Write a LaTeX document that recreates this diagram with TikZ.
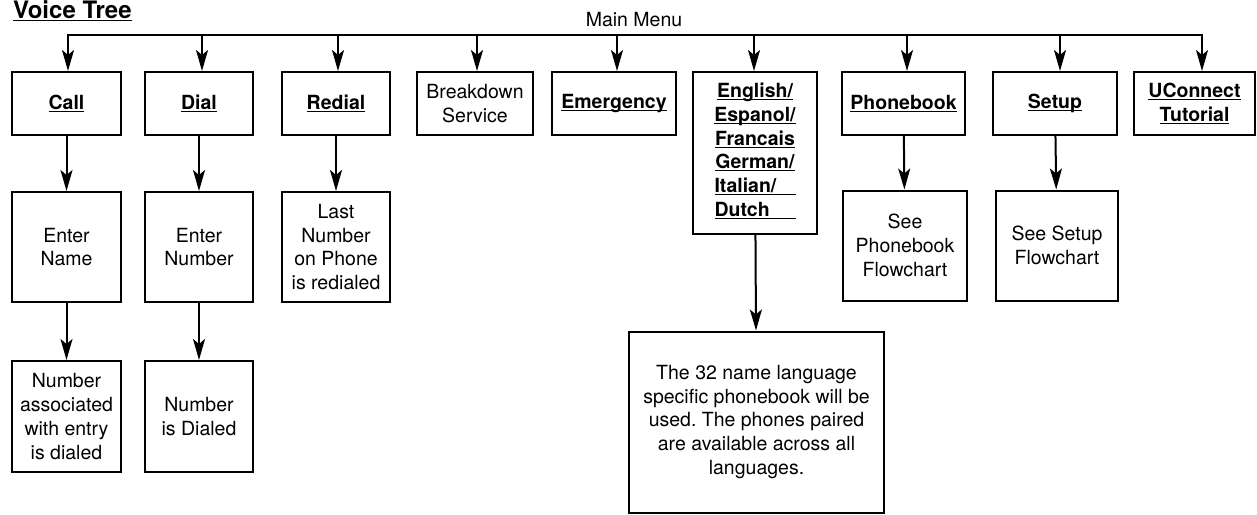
\documentclass[tikz,border=0pt]{standalone}
\usepackage{fontspec}
\setmainfont{TeX Gyre Heros}
\usepackage{tikz}
\usetikzlibrary{arrows.meta,positioning}
\tikzset{every picture/.style={line width=2pt}}
\frenchspacing
\newsavebox{\ulbox}
\newcommand{\ul}[1]{\sbox{\ulbox}{#1}\rlap{\rule[-2.5pt]{\wd\ulbox}{1pt}}\usebox{\ulbox}}
\newcommand{\wideul}[1]{\ul{\makebox[81pt][l]{#1}}}

\begin{document}
\begin{tikzpicture}[x=1pt, y=-1pt,
    box/.style={draw, inner sep=0pt, align=center, font={\fontsize{19.5}{23.7}\selectfont}},
    toprow/.style={box, minimum height=63pt},
    midrow/.style={box, minimum height=110pt},
    lowrow/.style={box, minimum height=111pt},
    arr/.style={-{Stealth[length=21pt,width=12pt,inset=5pt]}}]
    \useasboundingbox (0,0) rectangle (1257,514);

    % 标题
    \node[anchor=base west, inner sep=0pt, font={\fontsize{24}{24}\selectfont\bfseries}] (title) at (12,18) {\ul{Voice Tree}};
    \node[anchor=base, inner sep=0pt, font={\fontsize{19.5}{23.7}\selectfont}] (menu) at (634,26) {Main Menu};

    % 第一行：菜单项
    \node[toprow, minimum width=109pt] (call) at (66.5,103.5) {\bfseries\ul{Call}};
    \node[toprow, minimum width=108pt] (dial) at (199,103.5) {\bfseries\ul{Dial}};
    \node[toprow, minimum width=108pt] (redial) at (336,103.5) {\bfseries\ul{Redial}};
    \node[toprow, minimum width=116pt] (breakdown) at (475,103.5) {Breakdown\\Service};
    \node[toprow, minimum width=124pt] (emergency) at (614,103.5) {\bfseries\ul{Emergency}};
    \node[box, minimum width=124pt, minimum height=162pt, font={\fontsize{19.5}{23.7}\selectfont\bfseries}] (lang) at (755,153)
        {\ul{English/}\\\ul{Espanol/}\\\ul{Francais}\\\ul{German/}\\\wideul{Italian/}\\\wideul{Dutch}\\[-17pt]};
    \node[toprow, minimum width=123pt] (phonebook) at (903.5,103.5) {\bfseries\ul{Phonebook}};
    \node[toprow, minimum width=124pt] (setup) at (1055,103.5) {\bfseries\ul{Setup}};
    \node[toprow, minimum width=121pt, font={\fontsize{19.5}{23.7}\selectfont\bfseries}] (uconnect) at (1194.5,103.5) {\ul{UConnect}\\\ul{Tutorial}};

    % 第二行
    \node[midrow, minimum width=109pt] (entername) at (66.5,247) {Enter\\Name};
    \node[midrow, minimum width=108pt] (enternumber) at (199,247) {Enter\\Number};
    \node[midrow, minimum width=108pt] (lastnumber) at (336,247) {Last\\Number\\on Phone\\is redialed};
    \node[midrow, minimum width=124pt] (seephonebook) at (905,245.5) {See\\Phonebook\\Flowchart};
    \node[midrow, minimum width=122pt] (seesetup) at (1057,245.5) {See Setup\\Flowchart};

    % 第三行
    \node[lowrow, minimum width=109pt] (numassoc) at (66.5,416.5) {Number\\associated\\with entry\\is dialed};
    \node[lowrow, minimum width=108pt] (numdialed) at (199,416.5) {Number\\is Dialed};
    \node[box, minimum width=255pt, minimum height=181pt] (langnote) at (756.5,422)
        {The 32 name language\\specific phonebook will be\\used. The phones paired\\are available across all\\languages.};

    % 主菜单总线
    \coordinate (busL) at (68,35);
    \coordinate (busR) at (1202,35);
    \draw[line cap=rect] (busL) -- (busR);
    \foreach \n/\xx in {call/68,dial/202,redial/338,breakdown/477,emergency/617,lang/754,phonebook/907,setup/1060,uconnect/1202}
        \draw[arr] (\xx,35) -- (\n.north -| \xx,0);

    % 下层箭头
    \draw[arr] (call) -- (entername);
    \draw[arr] (dial) -- (enternumber);
    \draw[arr] (redial) -- (lastnumber);
    \draw[arr] (phonebook) -- (seephonebook);
    \draw[arr] (setup) -- (seesetup);
    \draw[arr] (entername) -- (numassoc);
    \draw[arr] (enternumber) -- (numdialed);
    \draw[arr] (lang) -- (langnote);
\end{tikzpicture}
\end{document}
